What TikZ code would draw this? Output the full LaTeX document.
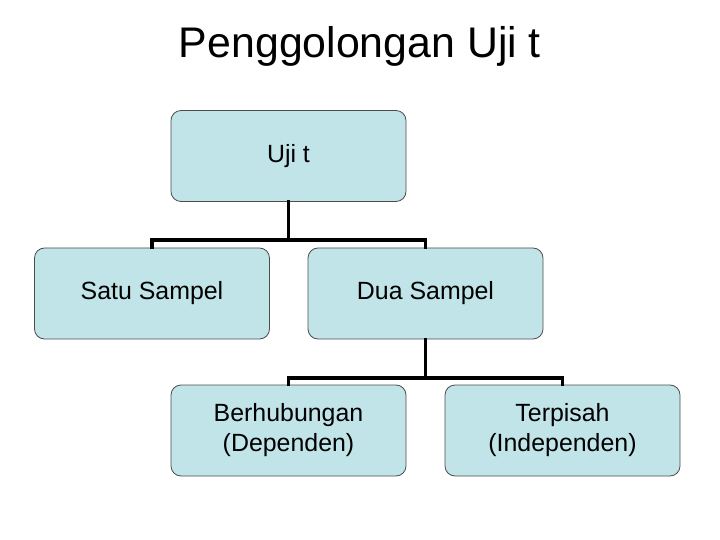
\documentclass[tikz,border=0pt]{standalone}
\usepackage{fontspec}
\setmainfont{Liberation Sans}
\begin{document}
\begin{tikzpicture}[x=1bp,y=-1bp,
  box/.style={draw=black!70,line width=0.8pt,fill={rgb,255:red,193;green,228;blue,232},rounded corners=10bp,minimum width=235bp,minimum height=91bp,align=center,font=\fontsize{25}{30}\selectfont},
  conn/.style={line width=3.5pt,line cap=rect}]
\useasboundingbox (0,0) rectangle (720,540);
\node[font=\fontsize{43}{50}\selectfont] (title) at (360,46) {Penggolongan Uji t};
\node[box] (u) at (288.5,156) {Uji t};
\node[box] (s) at (152,293.5) {Satu Sampel};
\node[box] (d) at (425.5,293.5) {Dua Sampel};
\node[box] (b) at (288.5,430.5) {Berhubungan\\ (Dependen)};
\node[box] (t) at (562.5,430.5) {Terpisah\\(Independen)};
\coordinate (j1) at (288.5,240);
\coordinate (j2) at (425.5,378);
\draw[conn] (u.south) -- (j1);
\draw[conn] (s.north) |- (j1) -| (d.north);
\draw[conn] (d.south) -- (j2);
\draw[conn] (b.north) |- (j2) -| (t.north);
\end{tikzpicture}
\end{document}
